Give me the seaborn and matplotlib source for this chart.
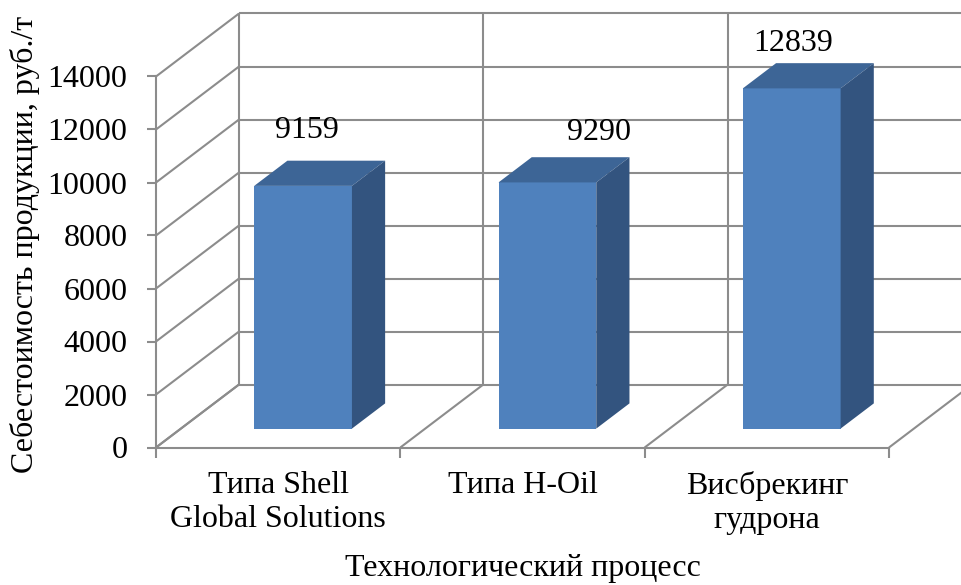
import seaborn as sns
import matplotlib.pyplot as plt
import matplotlib.transforms as mtransforms
from matplotlib.patches import Polygon
import pandas as pd

# данные
categories = ['Типа Shell\nGlobal Solutions', 'Типа H-Oil', 'Висбрекинг\nгудрона']
values = [9159, 9290, 12839]
y_ticks = [0, 2000, 4000, 6000, 8000, 10000, 12000, 14000]

data = pd.DataFrame({'process': categories, 'cost': values})

sns.set_theme(style='white')
plt.rcParams['font.family'] = ['Liberation Serif', 'DejaVu Serif']

fig = plt.figure(figsize=(9.62, 5.85), dpi=100)
ax = fig.add_axes([156 / 962, 137.5 / 585, 733 / 962, 371 / 585])

# глубина "3D" коробки в единицах данных
DX = 83 / 244.33
DY = 63 * 14000 / 371
F0, F1 = 0.30, 0.70          # передняя и задняя грань столбцов
grid_c = '#8C8C8C'
lw = 1.5
fs = 23
front_c, top_c, side_c = '#4F81BD', '#3D6596', '#33547F'


def back(x, y, f=1.0):
    return x + f * DX, y + f * DY


bounds = [-0.5, 0.5, 1.5, 2.5]
kw = dict(color=grid_c, lw=lw, clip_on=False, zorder=0, solid_capstyle='butt')
for v in y_ticks:
    xb, yb = back(-0.5, v)
    xe, ye = back(2.5, v)
    ax.plot([-0.5, xb], [v, yb], **kw)      # левая стенка
    ax.plot([xb, xe], [yb, ye], **kw)       # задняя стенка
for b in bounds:
    xb, yb = back(b, 0)
    ax.plot([b, xb], [0, yb], **kw)         # пол
    ax.plot([xb, xb], [yb, back(b, y_ticks[-1])[1]], **kw)

# столбцы
sns.barplot(data=data, x='process', y='cost', color=front_c, saturation=1,
            width=0.4, errorbar=None, ax=ax, zorder=3)

shift = mtransforms.Affine2D().translate(F0 * DX, F0 * DY) + ax.transData
d = F1 - F0
for p in list(ax.patches):
    p.set_transform(shift)
    p.set_clip_on(False)
    p.set_edgecolor('none')
    x, w, h = p.get_x() + F0 * DX, p.get_width(), p.get_height()
    y0 = F0 * DY
    top = [(x, y0 + h), (x + w, y0 + h),
           (x + w + d * DX, y0 + h + d * DY), (x + d * DX, y0 + h + d * DY)]
    side = [(x + w, y0), (x + w + d * DX, y0 + d * DY),
            (x + w + d * DX, y0 + h + d * DY), (x + w, y0 + h)]
    ax.add_patch(Polygon(top, closed=True, fc=top_c, ec='none', zorder=3, clip_on=False))
    ax.add_patch(Polygon(side, closed=True, fc=side_c, ec='none', zorder=3, clip_on=False))

# подписи значений
label_nudge = [(3, 40), (37, 36), (1, 32)]
for i, v in enumerate(values):
    ax.annotate(str(v), (i + F0 * DX, v + F0 * DY), xytext=label_nudge[i],
                textcoords='offset points', ha='center', va='center',
                fontsize=fs, color='black', annotation_clip=False)

ax.set_xlim(-0.5, 2.5)
ax.set_ylim(0, 14000)
ax.set_yticks(y_ticks)
ax.set_xticks(bounds, minor=True)

for s in ['top', 'right']:
    ax.spines[s].set_visible(False)
for s in ['left', 'bottom']:
    ax.spines[s].set_color(grid_c)
    ax.spines[s].set_linewidth(lw)

ax.tick_params(axis='y', left=True, length=6.5, width=lw, color=grid_c,
               pad=14, labelsize=fs, labelcolor='black')
ax.tick_params(axis='x', which='major', bottom=False, length=0, pad=17,
               labelsize=fs, labelcolor='black')
ax.tick_params(axis='x', which='minor', bottom=True, length=7, width=lw,
               color=grid_c)

ax.set_xlabel('Технологический процесс', fontsize=fs, labelpad=14, color='black')
ax.set_ylabel('Себестоимость продукции, руб./т', fontsize=fs, color='black')
ax.yaxis.set_label_coords(-0.158, 0.546)

fig.savefig('out.png', dpi=100)
